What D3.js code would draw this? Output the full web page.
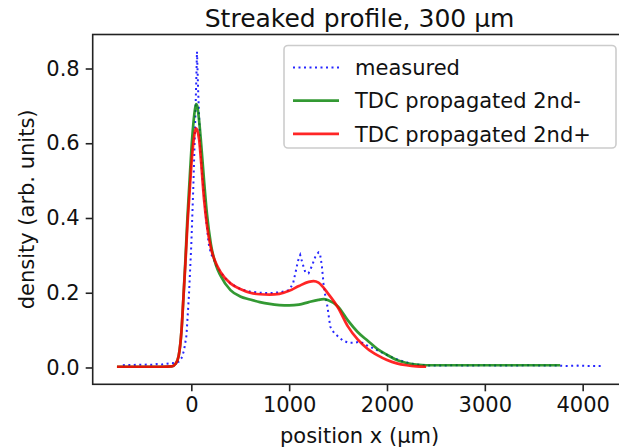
<!DOCTYPE html>
<html>
<head>
<meta charset="utf-8">
<script src="https://cdn.jsdelivr.net/npm/d3@7"></script>
<style>
  body { margin: 0; background: #fff; }
  text { font-family: "DejaVu Sans", sans-serif; fill: #111; }
</style>
</head>
<body>
<div id="chart"></div>
<script>
// measured profile (blue dotted)
var measuredX = [-700, -650, -600, -550, -500, -450, -400, -350, -300, -250, -200, -175, -150, -125, -100, -75, -50, -25, 0, 20, 40, 58,
  70, 90, 110, 126, 150, 177, 200, 228, 262, 300, 350, 400, 500, 600, 700, 800, 900, 1000, 1040, 1070, 1090, 1113, 1135, 1165,
  1198, 1230, 1267, 1300, 1315, 1335, 1351, 1370, 1386, 1420, 1460, 1505, 1550, 1607, 1660, 1726, 1790, 1862, 1950, 2033, 2130,
  2237, 2340, 2441, 2550, 2700, 2850, 3000, 3150, 3300, 3450, 3600, 3750, 3850, 3950, 4050, 4200];
var measuredY = [0.006, 0.007, 0.006, 0.008, 0.007, 0.008, 0.007, 0.009, 0.008, 0.010, 0.012, 0.011, 0.013, 0.016, 0.025, 0.045, 0.085, 0.19, 0.33, 0.48, 0.66, 0.845,
  0.74, 0.60, 0.52, 0.475, 0.40, 0.332, 0.305, 0.29, 0.27, 0.255, 0.238, 0.225, 0.21, 0.203, 0.200, 0.199, 0.201, 0.207, 0.225, 0.26, 0.285, 0.301, 0.28, 0.255,
  0.252, 0.27, 0.296, 0.308, 0.305, 0.27, 0.225, 0.19, 0.172, 0.109, 0.092, 0.082, 0.072, 0.066, 0.066, 0.069, 0.06, 0.051, 0.04, 0.029, 0.019,
  0.011, 0.007, 0.005, 0.005, 0.006, 0.005, 0.006, 0.005, 0.005, 0.006, 0.005, 0.005, 0.004, 0.005, 0.004, 0.004];

// TDC propagated 2nd- (green)
var minusX = [-760, -300, -200, -160, -130, -100, -80, -60, -40, -20, 0, 20, 40, 50, 60, 80, 100, 130, 160, 200, 250, 300, 400, 500,
  600, 700, 800, 900, 1000, 1100, 1200, 1300, 1350, 1400, 1500, 1600, 1700, 1800, 1900, 2000, 2100, 2200, 2300, 2400, 2600, 3000, 3400, 3770];
var minusY = [0.002, 0.002, 0.003, 0.01, 0.03, 0.10, 0.19, 0.29, 0.40, 0.49, 0.58, 0.65, 0.695, 0.705, 0.70, 0.66, 0.60, 0.50, 0.41, 0.33, 0.275, 0.245, 0.207, 0.19,
  0.182, 0.175, 0.17, 0.167, 0.166, 0.168, 0.175, 0.181, 0.183, 0.180, 0.163, 0.126, 0.095, 0.072, 0.05, 0.034, 0.02, 0.012, 0.008, 0.006, 0.006, 0.006, 0.006, 0.006];

// TDC propagated 2nd+ (red)
var plusX = [-760, -300, -200, -160, -130, -100, -80, -60, -40, -20, 0, 20, 40, 50, 60, 80, 100, 130, 160, 200, 250, 300, 400, 500,
  600, 700, 800, 900, 1000, 1100, 1200, 1250, 1300, 1400, 1500, 1600, 1700, 1800, 1900, 2000, 2100, 2200, 2300, 2400];
var plusY = [0.002, 0.002, 0.003, 0.01, 0.03, 0.10, 0.19, 0.28, 0.38, 0.46, 0.54, 0.60, 0.635, 0.64, 0.635, 0.61, 0.55, 0.45, 0.38, 0.32, 0.28, 0.255, 0.225, 0.21,
  0.20, 0.196, 0.195, 0.197, 0.205, 0.218, 0.229, 0.231, 0.227, 0.197, 0.16, 0.11, 0.075, 0.05, 0.033, 0.02, 0.011, 0.006, 0.003, 0.002];

var xTicks = [0, 1000, 2000, 3000, 4000];
var yTicks = [0.0, 0.2, 0.4, 0.6, 0.8];
var seriesNames = ["measured", "TDC propagated 2nd-", "TDC propagated 2nd+"];

var svgWidth = 619;
var svgHeight = 448;

// axes box (right edge falls just outside the picture, like the original)
var box = { left: 92.7, top: 34.5, right: 626.5, bottom: 384.3 };

var xScale = d3.scaleLinear()
    .domain([-1008, 4448])
    .range([box.left, box.right]);

var yScale = d3.scaleLinear()
    .domain([-0.045, 0.891])
    .range([box.bottom, box.top]);

var svg = d3.select('#chart').append('svg')
    .attr('width', svgWidth)
    .attr('height', svgHeight);

svg.append('rect')
    .attr('width', svgWidth)
    .attr('height', svgHeight)
    .attr('fill', '#fff');

var line = d3.line()
    .x(d => xScale(d[0]))
    .y(d => yScale(d[1]));

var measured = measuredX.map((v, i) => [v, measuredY[i]]);
var minus = minusX.map((v, i) => [v, minusY[i]]);
var plus = plusX.map((v, i) => [v, plusY[i]]);

var legendStyles = [
    { color: '#0000ff', width: 2, dash: '2,3.5', opacity: 0.85 },
    { color: '#008000', width: 2.7, dash: null, opacity: 0.8 },
    { color: '#ff0000', width: 2.7, dash: null, opacity: 0.85 }
];

var plotArea = svg.append('g');

plotArea.append('path')
    .datum(measured)
    .attr('d', line)
    .attr('fill', 'none')
    .attr('stroke', legendStyles[0].color)
    .attr('stroke-opacity', legendStyles[0].opacity)
    .attr('stroke-width', legendStyles[0].width)
    .attr('stroke-dasharray', legendStyles[0].dash);

plotArea.append('path')
    .datum(minus)
    .attr('d', line.curve(d3.curveMonotoneX))
    .attr('fill', 'none')
    .attr('stroke', legendStyles[1].color)
    .attr('stroke-opacity', legendStyles[1].opacity)
    .attr('stroke-width', legendStyles[1].width);

plotArea.append('path')
    .datum(plus)
    .attr('d', line.curve(d3.curveMonotoneX))
    .attr('fill', 'none')
    .attr('stroke', legendStyles[2].color)
    .attr('stroke-opacity', legendStyles[2].opacity)
    .attr('stroke-width', legendStyles[2].width);

// axes
var xAxis = d3.axisBottom(xScale)
    .tickValues(xTicks)
    .tickSize(7)
    .tickPadding(6)
    .tickFormat(d3.format('d'));

var yAxis = d3.axisLeft(yScale)
    .tickValues(yTicks)
    .tickSize(7)
    .tickPadding(6)
    .tickFormat(d3.format('.1f'));

var gx = svg.append('g')
    .attr('transform', `translate(0, ${box.bottom})`)
    .call(xAxis);

var gy = svg.append('g')
    .attr('transform', `translate(${box.left}, 0)`)
    .call(yAxis);

[gx, gy].forEach(function (g) {
    g.select('.domain').remove();
    g.selectAll('.tick line').attr('stroke', '#222').attr('stroke-width', 1.6);
    g.selectAll('.tick text')
        .attr('font-size', '21px')
        .attr('font-family', 'DejaVu Sans')
        .attr('fill', '#1a1a1a');
});

// spines
svg.append('rect')
    .attr('x', box.left)
    .attr('y', box.top)
    .attr('width', box.right - box.left)
    .attr('height', box.bottom - box.top)
    .attr('fill', 'none')
    .attr('stroke', '#222')
    .attr('stroke-width', 1.6);

// legend
var legend = svg.append('g');

legend.append('rect')
    .attr('x', 284)
    .attr('y', 45.5)
    .attr('width', 332)
    .attr('height', 102.5)
    .attr('rx', 4)
    .attr('fill', '#fff')
    .attr('fill-opacity', 0.8)
    .attr('stroke', '#cccccc')
    .attr('stroke-width', 1.6);

seriesNames.forEach(function (name, i) {
    var cy = 67.5 + i * 33.2;
    legend.append('line')
        .attr('x1', 293)
        .attr('x2', 339)
        .attr('y1', cy)
        .attr('y2', cy)
        .attr('stroke', legendStyles[i].color)
        .attr('stroke-opacity', legendStyles[i].opacity)
        .attr('stroke-width', legendStyles[i].width)
        .attr('stroke-dasharray', legendStyles[i].dash);
    legend.append('text')
        .attr('x', 355)
        .attr('y', cy + 7.6)
        .attr('font-size', '21px')
        .text(name);
});

// title and axis labels
svg.append('text')
    .attr('x', (box.left + box.right) / 2)
    .attr('y', 27)
    .attr('text-anchor', 'middle')
    .attr('font-size', '25px')
    .text('Streaked profile, 300 µm');

svg.append('text')
    .attr('x', (box.left + box.right) / 2)
    .attr('y', 443)
    .attr('text-anchor', 'middle')
    .attr('font-size', '21px')
    .text('position x (µm)');

svg.append('text')
    .attr('transform', `translate(33.5, ${(box.top + box.bottom) / 2}) rotate(-90)`)
    .attr('text-anchor', 'middle')
    .attr('font-size', '21px')
    .text('density (arb. units)');
</script>
</body>
</html>
